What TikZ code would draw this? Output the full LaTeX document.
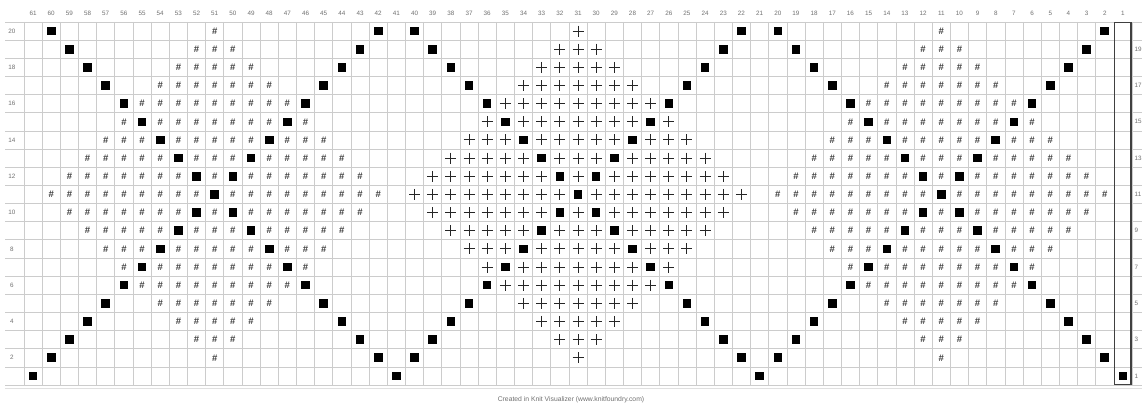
\documentclass[tikz,border=0pt]{standalone}
\usepackage{fontspec}
\setmainfont{Liberation Sans}
\definecolor{gridc}{HTML}{CCCCCC}
\definecolor{labc}{HTML}{707070}
\definecolor{hashc}{HTML}{404040}
\tikzset{
  gridline/.style={draw=gridc, line width=0.7pt},
  collab/.style={font=\fontsize{6.3}{6.3}\selectfont, text=labc, inner sep=0pt},
  hashsym/.style={font=\fontsize{9.5}{9.5}\selectfont\bfseries, text=hashc, inner sep=0pt},
  plussym/.style={draw=black!85, line width=1.0pt},
  blacksq/.style={fill=black},
  footer/.style={font=\fontsize{6.8}{6.8}\selectfont, text=labc, inner sep=0pt}
}
\begin{document}
\begin{tikzpicture}[x=1pt,y=-1pt]
\useasboundingbox (0,0) rectangle (1142,409);
\fill[white] (0,0) rectangle (1142,409);
\def\cw{18.164}
\def\ch{18.15}
% grid
\foreach \i in {0,...,61} \draw[gridline] ({24+\i*\cw},22) -- ({24+\i*\cw},385);
\foreach \j in {0,...,20} \draw[gridline] (5,{22+\j*\ch}) -- (1142,{22+\j*\ch});
\draw[gridc!60, line width=0.5pt] (5,388) -- (1142,388);
% column labels
\foreach \c in {1,...,61} {
  \pgfmathsetmacro\xx{24+(61-\c+0.5)*\cw}
  \node[collab] (col\c) at (\xx,13) {\c};
}
% row labels
\foreach \r in {2,4,...,20} {
  \pgfmathsetmacro\yy{22+(20-\r+0.5)*\ch}
  \node[collab] (rowl\r) at (12,\yy) {\r};
}
\foreach \r in {1,3,...,19} {
  \pgfmathsetmacro\yy{22+(20-\r+0.5)*\ch}
  \node[collab, anchor=west] (rowr\r) at (1134.5,\yy) {\r};
}
% black squares
\foreach \r in {1,...,20} {
  \pgfmathsetmacro\yy{22+(20-\r+0.5)*\ch}
  \foreach \k in {0,1,2} {
    \pgfmathtruncatemacro\ca{62-\r-20*\k}
    \pgfmathtruncatemacro\cb{40+\r-20*\k}
    \pgfmathsetmacro\xa{24+(61-\ca+0.5)*\cw}
    \pgfmathsetmacro\xb{24+(61-\cb+0.5)*\cw}
    \fill[blacksq] (\xa-4.3,\yy-4.3) rectangle +(8.6,8.6);
    \fill[blacksq] (\xb-4.3,\yy-4.3) rectangle +(8.6,8.6);
  }
}
% diamond fills
\foreach \C in {51,31,11} {
  \foreach \r in {2,...,20} {
    \pgfmathtruncatemacro\a{abs(\r-11)}
    \pgfmathtruncatemacro\h{9-\a}
    \pgfmathtruncatemacro\lo{-\h}
    \pgfmathsetmacro\yy{22+(20-\r+0.5)*\ch}
    \foreach \d in {\lo,...,\h} {
      \pgfmathtruncatemacro\ad{abs(\d)}
      \ifnum\ad=\a\else
        \pgfmathsetmacro\xx{24+(61-\C-\d+0.5)*\cw}
        \ifnum\C=31
          \draw[plussym] (\xx-5.5,\yy) -- (\xx+5.5,\yy) (\xx,\yy-5.5) -- (\xx,\yy+5.5);
        \else
          \node[hashsym] at (\xx,\yy) {\#};
        \fi
      \fi
    }
  }
}
% column 1 box
\draw[black!75, line width=1.6pt] (1114.6,22.6) rectangle (1131.2,384.6);
% footer
\node[footer] (foot) at (571,400) {Created in Knit Visualizer (www.knitfoundry.com)};
\end{tikzpicture}
\end{document}
